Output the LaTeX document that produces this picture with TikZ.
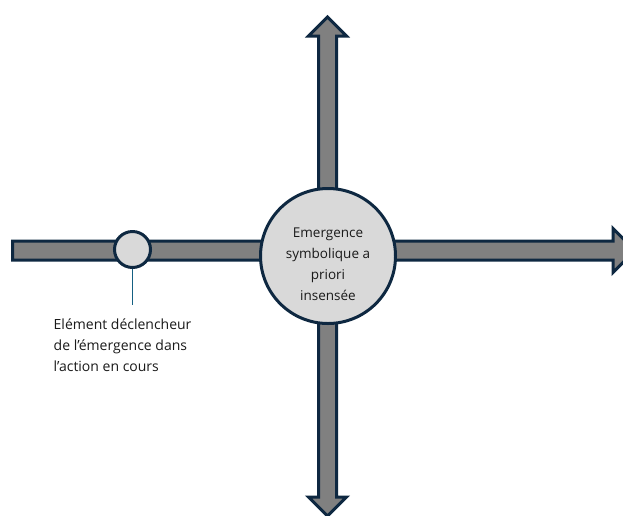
\documentclass[tikz,border=0pt]{standalone}
\usepackage{fontspec}
\setmainfont{Open Sans}
\definecolor{outl}{HTML}{0E2841}
\definecolor{barfill}{HTML}{808080}
\definecolor{circfill}{HTML}{D9D9D9}
\definecolor{lnk}{HTML}{156082}
\definecolor{txt}{HTML}{1A1A1A}
\tikzset{
  arrowshape/.style={draw=outl, fill=barfill, line width=3pt, line join=miter},
  circnode/.style={circle, draw=outl, fill=circfill, line width=3pt, inner sep=0pt},
  lbl/.style={inner sep=0pt, text=txt, font=\fontsize{13.5}{21}\selectfont},
  sidelbl/.style={inner sep=0pt, text=txt, font=\fontsize{14}{21}\selectfont},
}
\begin{document}
\begin{tikzpicture}[x=1pt,y=-1pt]
\useasboundingbox (0,0) rectangle (623,515);
\clip (0,0) rectangle (623,515);
\fill[white] (0,0) rectangle (623,515);
% horizontal arrow
\draw[arrowshape] (12.5,241) -- (613,241) -- (613,228.5) -- (635,250.5) -- (613,272.5) -- (613,260) -- (12.5,260) -- cycle;
% vertical double arrow
\draw[arrowshape] (318.5,36) -- (308.5,36) -- (327.5,17) -- (346.5,36) -- (336.5,36)
  -- (336.5,497) -- (346.5,497) -- (327.5,516) -- (308.5,497) -- (318.5,497) -- cycle;
% circles
\node[circnode, minimum size=135pt] (big) at (328,256) {};
\node[circnode, minimum size=36pt] (small) at (132.5,249.5) {};
% texts
\node[lbl, anchor=base] (bigtext) at (328,237)
  {\begin{tabular}[t]{@{}c@{}}Emergence\\ symbolique a\\ priori\\ insensée\end{tabular}};
\node[sidelbl, anchor=base west] (trigger) at (53.5,329)
  {\begin{tabular}[t]{@{}l@{}}Elément déclencheur\\ de l’émergence dans\\ l’action en cours\end{tabular}};
\coordinate (lineend) at (132.5,305);
\draw[lnk, line width=1pt] (small.south) -- (lineend);
\end{tikzpicture}
\end{document}
